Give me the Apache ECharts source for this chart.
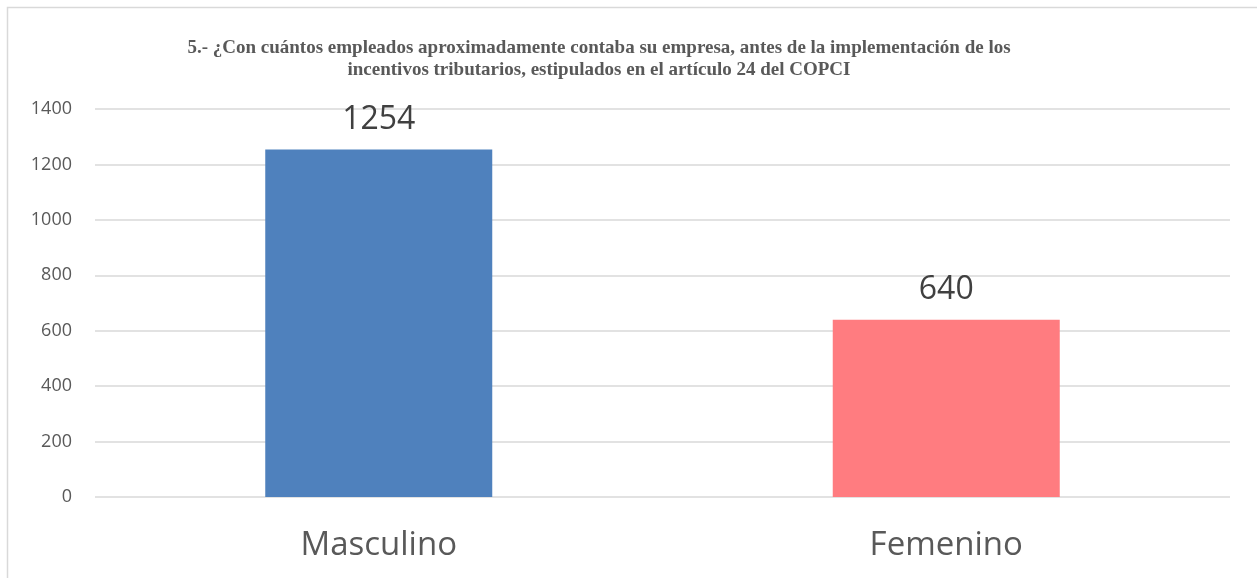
<!DOCTYPE html>
<html>
<head>
<meta charset="utf-8">
<script src="https://cdn.jsdelivr.net/npm/echarts@6/dist/echarts.min.js"></script>
<style>
html, body { margin: 0; padding: 0; background: #fff; }
#chart { width: 1257px; height: 578px; }
</style>
</head>
<body>
<div id="chart"></div>
<script>
var categories = ['Masculino', 'Femenino'];
var values = [1254, 640];
var barColors = ['#4f81bd', '#ff7c80'];
var yTicks = [0, 200, 400, 600, 800, 1000, 1200, 1400];

var chart = echarts.init(document.getElementById('chart'));
var option = {
	backgroundColor: '#fff',
	animation: false,
	title: {
		text: '5.- ¿Con cuántos empleados aproximadamente contaba su empresa, antes de la implementación de los\nincentivos tributarios, estipulados en el artículo 24 del COPCI',
		left: 594,
		top: 32,
		textAlign: 'center',
		textStyle: {
			fontFamily: '"Liberation Serif", "Times New Roman", serif',
			fontWeight: 'bold',
			fontSize: 19,
			lineHeight: 22,
			color: '#595959'
		}
	},
	graphic: [{
		type: 'polyline',
		shape: { points: [[7.5, 600], [7.5, 7.5], [1300, 7.5]] },
		style: { stroke: '#d9d9d9', lineWidth: 1.5, fill: null }
	}],
	grid: { left: 95, right: 27, top: 109, bottom: 81 },
	xAxis: {
		type: 'category',
		data: categories,
		axisLine: { show: false },
		axisTick: { show: false },
		axisLabel: {
			margin: 32,
			fontSize: 33,
			color: '#595959',
			fontFamily: '"Open Sans", "Liberation Sans", sans-serif'
		}
	},
	yAxis: {
		type: 'value',
		min: yTicks[0],
		max: yTicks[yTicks.length - 1],
		interval: 200,
		axisLine: { show: false },
		axisTick: { show: false },
		splitLine: { lineStyle: { color: '#d9d9d9', width: 1.5 } },
		axisLabel: {
			margin: 23,
			fontSize: 18,
			color: '#595959',
			fontFamily: '"Open Sans", "Liberation Sans", sans-serif',
			formatter: function (v) { return String(v); }
		}
	},
	series: [{
		type: 'bar',
		barWidth: '40%',
		data: values.map(function (v, i) {
			return { value: v, itemStyle: { color: barColors[i] } };
		}),
		label: {
			show: true,
			position: 'top',
			distance: 14,
			fontSize: 32,
			color: '#404040',
			fontFamily: '"Open Sans", "Liberation Sans", sans-serif'
		}
	}]
};
chart.setOption(option);
window.addEventListener('resize', function () {
	chart.resize();
});
</script>
</body>
</html>
